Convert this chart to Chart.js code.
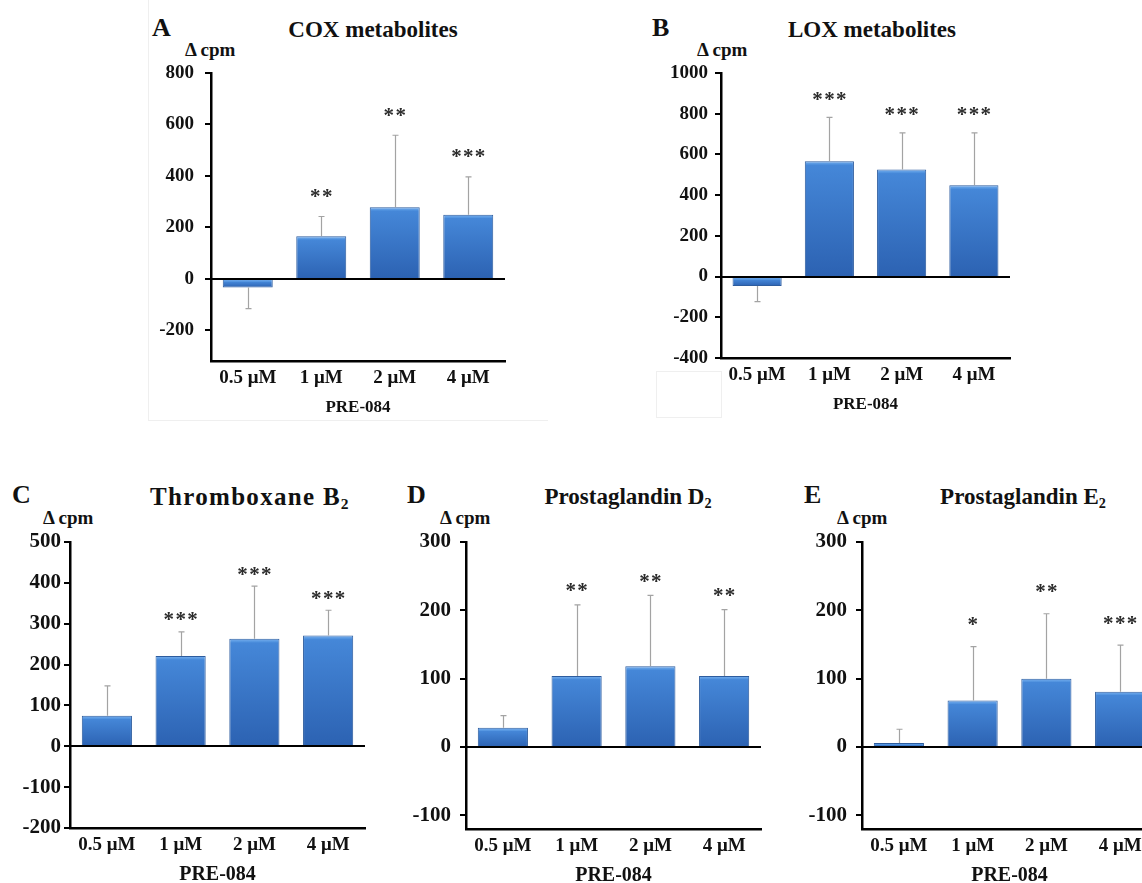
<!DOCTYPE html>
<html>
<head>
<meta charset="utf-8">
<script src="https://cdn.jsdelivr.net/npm/chart.js@4.4.1/dist/chart.umd.min.js"></script>
<style>
  html, body { margin: 0; padding: 0; background: #fff; width: 1142px; height: 883px; overflow: hidden; }
  body { position: relative; font-family: 'Liberation Serif', 'Times New Roman', serif; font-weight: bold; color: #111; }
  .cv { position: absolute; }
  .txt { position: absolute; white-space: nowrap; line-height: 1; }
  .letter { font-size: 26px; transform: translateY(-50%); }
  .title { font-size: 23px; transform: translate(-50%, -50%); }
  .title.wide { font-size: 25px; letter-spacing: 1.3px; }
  .unit { font-size: 19px; transform: translateY(-50%); }
  .title sub { font-size: 0.62em; vertical-align: -0.3em; line-height: 0; }
  .frame { position: absolute; border: 1px solid #efefef; box-sizing: border-box; }
</style>
</head>
<body>

<div class="frame" style="left:148px; top:-2px; width:400px; height:423px; border-top:none; border-right:none;"></div>
<div class="frame" style="left:656px; top:371px; width:66px; height:47px;"></div>

<div class="txt letter" style="left:152px; top:28px;">A</div>
<div class="txt title" style="left:373px; top:29px;">COX metabolites</div>
<div class="txt unit" style="left:185px; top:49px;">Δ cpm</div>

<div class="txt letter" style="left:652px; top:28px;">B</div>
<div class="txt title" style="left:872px; top:29px;">LOX metabolites</div>
<div class="txt unit" style="left:697px; top:49px;">Δ cpm</div>

<div class="txt letter" style="left:12px; top:495px;">C</div>
<div class="txt title wide" style="left:250px; top:496px;">Thromboxane B<sub>2</sub></div>
<div class="txt unit" style="left:43px; top:517px;">Δ cpm</div>

<div class="txt letter" style="left:407px; top:495px;">D</div>
<div class="txt title" style="left:628px; top:496px;">Prostaglandin D<sub>2</sub></div>
<div class="txt unit" style="left:440px; top:517px;">Δ cpm</div>

<div class="txt letter" style="left:804px; top:495px;">E</div>
<div class="txt title" style="left:1023px; top:496px;">Prostaglandin E<sub>2</sub></div>
<div class="txt unit" style="left:837px; top:517px;">Δ cpm</div>

<script>
// PRE-084 concentrations shared by every panel
const categories = ['0.5 μM', '1 μM', '2 μM', '4 μM'];
const xAxisLabel = 'PRE-084';

// A: COX metabolites (Δ cpm, mean and SD)
const coxValues = [-34, 165, 278, 249];
const coxErrors = [82, 77, 280, 147];
const coxStars  = ['', '**', '**', '***'];
const coxTicks  = [-200, 0, 200, 400, 600, 800];

// B: LOX metabolites
const loxValues = [-46, 567, 526, 448];
const loxErrors = [77, 215, 180, 258];
const loxStars  = ['', '***', '***', '***'];
const loxTicks  = [-400, -200, 0, 200, 400, 600, 800, 1000];

// C: Thromboxane B2
const txbValues = [75, 221, 263, 271];
const txbErrors = [73, 59, 129, 62];
const txbStars  = ['', '***', '***', '***'];
const txbTicks  = [-200, -100, 0, 100, 200, 300, 400, 500];

// D: Prostaglandin D2
const pgd2Values = [28, 104, 118, 104];
const pgd2Errors = [18, 104, 104, 97];
const pgd2Stars  = ['', '**', '**', '**'];
const pgd2Ticks  = [-100, 0, 100, 200, 300];

// E: Prostaglandin E2
const pge2Values = [6, 68, 100, 81];
const pge2Errors = [20, 79, 95, 68];
const pge2Stars  = ['', '*', '**', '***'];
const pge2Ticks  = [-100, 0, 100, 200, 300];

const FONT = "'Liberation Serif', 'Times New Roman', serif";
const AXIS_W = 95, PAD_T = 15, PAD_R = 15, XAXIS_H = 65;
const TICK_LEN = 6;

// Axis tick marks, error bars, zero line and significance stars
const decorPlugin = {
  id: 'decor',
  afterDatasetsDraw(chart, args, opts) {
    const { ctx, chartArea } = chart;
    const ys = chart.scales.y;
    const meta = chart.getDatasetMeta(0);
    const ds = chart.data.datasets[0];
    ctx.save();

    // outward tick marks on the value axis
    ctx.strokeStyle = '#000';
    ctx.lineWidth = 2;
    ctx.beginPath();
    ys.ticks.forEach(t => {
      const ty = Math.round(ys.getPixelForValue(t.value));
      ctx.moveTo(chartArea.left - TICK_LEN, ty);
      ctx.lineTo(chartArea.left, ty);
    });
    ctx.stroke();

    // zero line
    const zy = Math.round(ys.getPixelForValue(0));
    ctx.lineWidth = 2;
    ctx.beginPath();
    ctx.moveTo(chartArea.left - TICK_LEN, zy);
    ctx.lineTo(chartArea.right, zy);
    ctx.stroke();

    meta.data.forEach((bar, i) => {
      const v = ds.data[i];
      const e = opts.errors[i];
      const end = v >= 0 ? v + e : v - e;
      const x = Math.round(bar.x) + 0.5;
      const p0 = ys.getPixelForValue(v);
      const p1 = ys.getPixelForValue(end);
      ctx.strokeStyle = '#a3a3a3';
      ctx.lineWidth = 1.2;
      ctx.beginPath();
      ctx.moveTo(x, p0);
      ctx.lineTo(x, p1);
      ctx.moveTo(x - 3, p1);
      ctx.lineTo(x + 3, p1);
      ctx.stroke();

      const s = opts.stars[i];
      if (s) {
        ctx.fillStyle = '#2b2b2b';
        ctx.font = 'bold ' + opts.starSize + 'px ' + FONT;
        ctx.textAlign = 'center';
        ctx.textBaseline = 'alphabetic';
        const step = opts.starSize * 0.56;
        const cy = p1 - opts.starGap;
        const base = cy + opts.starSize * 0.5;
        for (let k = 0; k < s.length; k++) {
          const sx = bar.x + (k - (s.length - 1) / 2) * step;
          ctx.fillText('*', sx, base);
        }
      }
    });
    ctx.restore();
  }
};

function barFill(c) {
  const chart = c.chart;
  const area = chart.chartArea;
  if (!area || c.raw === undefined) return '#3b78c8';
  const ys = chart.scales.y;
  const v = c.raw;
  const top = ys.getPixelForValue(Math.max(v, 0));
  const bot = ys.getPixelForValue(Math.min(v, 0));
  const h = Math.max(bot - top, 1);
  const g = chart.ctx.createLinearGradient(0, top, 0, bot);
  const hl = Math.min(3 / h, 0.4);
  g.addColorStop(0, '#7db2ee');
  g.addColorStop(hl, '#5294e0');
  g.addColorStop(Math.min(hl + 0.01, 1), '#4587d8');
  g.addColorStop(1, '#2c62b2');
  return g;
}

// keep the plot area exactly where the layout padding puts it
function clearScalePadding(s) {
  s.paddingTop = 0;
  s.paddingBottom = 0;
  s.paddingLeft = 0;
  s.paddingRight = 0;
}

function makePanel(p) {
  const L = p.plot.l - AXIS_W;
  const T = p.plot.t - PAD_T;
  const W = p.plot.r + PAD_R - L;
  const H = p.plot.b + XAXIS_H - T;
  const canvas = document.createElement('canvas');
  canvas.className = 'cv';
  canvas.width = W;
  canvas.height = H;
  canvas.style.left = L + 'px';
  canvas.style.top = T + 'px';
  canvas.style.width = W + 'px';
  canvas.style.height = H + 'px';
  document.body.appendChild(canvas);

  new Chart(canvas, {
    type: 'bar',
    data: {
      labels: categories,
      datasets: [{
        data: p.values,
        backgroundColor: barFill,
        borderColor: '#2d5c9e',
        borderWidth: 1,
        barPercentage: 0.68,
        categoryPercentage: 1
      }]
    },
    options: {
      responsive: false,
      devicePixelRatio: 1,
      animation: false,
      events: [],
      layout: { padding: { left: 0, top: PAD_T, right: PAD_R, bottom: 0 } },
      plugins: {
        legend: { display: false },
        tooltip: { enabled: false },
        decor: { errors: p.errors, stars: p.stars, starSize: p.starSize, starGap: p.starGap }
      },
      scales: {
        x: {
          grid: { display: false, drawTicks: false },
          border: { display: true, color: '#000', width: 2.5 },
          ticks: { color: '#111', font: { family: FONT, weight: 'bold', size: p.catSize }, padding: 6, maxRotation: 0 },
          title: {
            display: true, text: xAxisLabel, color: '#111',
            font: { family: FONT, weight: 'bold', size: p.titleSize },
            padding: { top: 0, bottom: p.titlePad }
          },
          afterFit(s) { s.height = XAXIS_H; clearScalePadding(s); }
        },
        y: {
          min: p.min,
          max: p.max,
          afterBuildTicks(s) { s.ticks = p.ticks.map(v => ({ value: v })); },
          grid: { display: false, drawTicks: false },
          border: { display: true, color: '#000', width: 2.5 },
          ticks: {
            color: '#111', font: { family: FONT, weight: 'bold', size: p.tickSize }, padding: p.yPad,
            callback: v => String(v)
          },
          afterFit(s) { s.width = AXIS_W; clearScalePadding(s); }
        }
      }
    },
    plugins: [decorPlugin]
  });
}

makePanel({ plot: { l: 211, t: 73, r: 505, b: 361 }, min: -320, max: 800, ticks: coxTicks,
  values: coxValues, errors: coxErrors, stars: coxStars,
  tickSize: 19, catSize: 19, titleSize: 17, titlePad: 8, yPad: 17, starSize: 21, starGap: 24 });
makePanel({ plot: { l: 721, t: 73, r: 1010, b: 358 }, min: -400, max: 1000, ticks: loxTicks,
  values: loxValues, errors: loxErrors, stars: loxStars,
  tickSize: 19, catSize: 19, titleSize: 17, titlePad: 8, yPad: 13, starSize: 21, starGap: 22 });
makePanel({ plot: { l: 70, t: 542, r: 365, b: 828 }, min: -200, max: 500, ticks: txbTicks,
  values: txbValues, errors: txbErrors, stars: txbStars,
  tickSize: 21, catSize: 19, titleSize: 20, titlePad: 6, yPad: 9, starSize: 21, starGap: 16 });
makePanel({ plot: { l: 466, t: 542, r: 761, b: 829 }, min: -120, max: 300, ticks: pgd2Ticks,
  values: pgd2Values, errors: pgd2Errors, stars: pgd2Stars,
  tickSize: 21, catSize: 19, titleSize: 20, titlePad: 6, yPad: 15, starSize: 21, starGap: 18 });
makePanel({ plot: { l: 862, t: 542, r: 1157, b: 829 }, min: -120, max: 300, ticks: pge2Ticks,
  values: pge2Values, errors: pge2Errors, stars: pge2Stars,
  tickSize: 21, catSize: 19, titleSize: 20, titlePad: 6, yPad: 15, starSize: 21, starGap: 26 });
</script>
</body>
</html>
